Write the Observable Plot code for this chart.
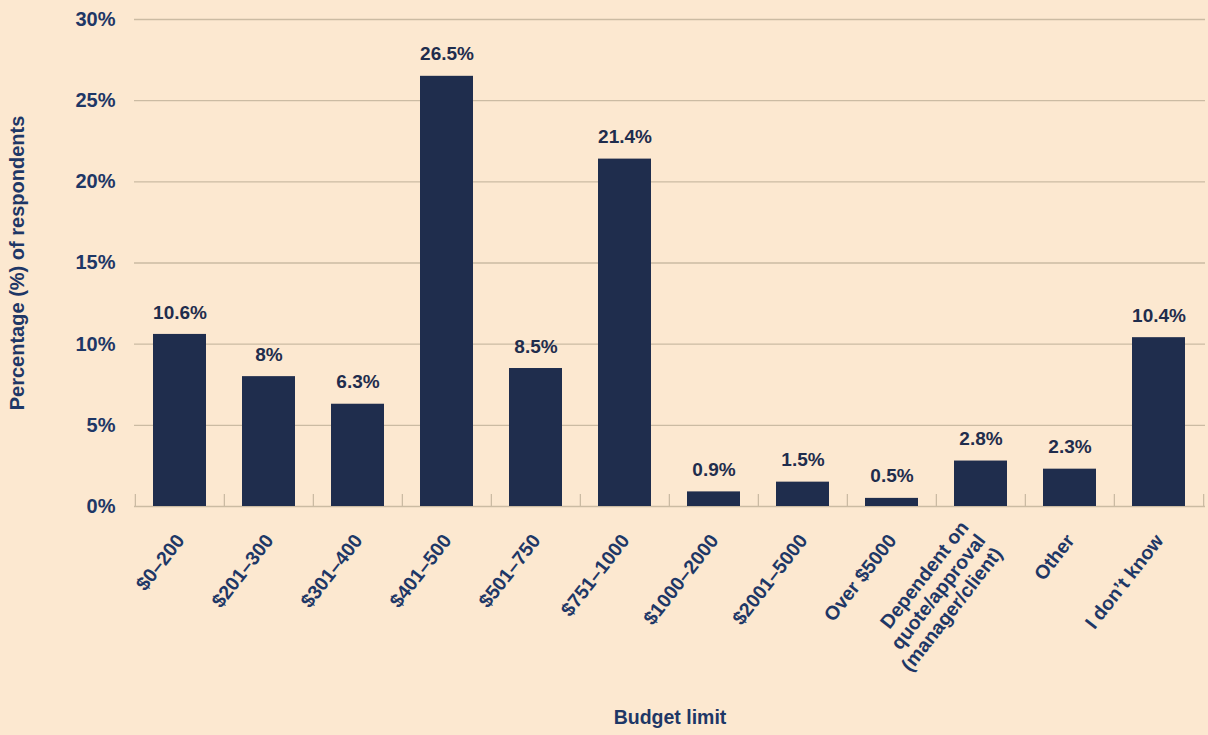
<!DOCTYPE html>
<html>
<head>
<meta charset="utf-8">
<script src="https://cdn.jsdelivr.net/npm/d3@7"></script>
<script src="https://cdn.jsdelivr.net/npm/@observablehq/plot@0.6"></script>
<style>
  html, body { margin: 0; padding: 0; background: #FCE8D0; }
  #chart { width: 1208px; height: 735px; }
</style>
</head>
<body>
<div id="chart"></div>
<script>
const categories = [
  "$0–200", "$201–300", "$301–400", "$401–500", "$501–750", "$751–1000",
  "$1000–2000", "$2001–5000", "Over $5000",
  "Dependent on\nquote/approval\n(manager/client)", "Other", "I don’t know"
];
const values = [10.6, 8, 6.3, 26.5, 8.5, 21.4, 0.9, 1.5, 0.5, 2.8, 2.3, 10.4];
const valueLabels = ["10.6%", "8%", "6.3%", "26.5%", "8.5%", "21.4%", "0.9%", "1.5%", "0.5%", "2.8%", "2.3%", "10.4%"];
const yTicks = [0, 5, 10, 15, 20, 25, 30];
const yTickLabels = ["0%", "5%", "10%", "15%", "20%", "25%", "30%"];

const data = categories.map((c, i) => ({cat: c, value: values[i], label: valueLabels[i]}));

const W = 1208, H = 735;
const mL = 134, mR = 3, mT = 19, mB = 229;
const step = (W - mL - mR) / categories.length;

const textColor = "#1E3766";
const barColor = "#1F2D4D";
const gridColor = "#CBBBA3";
const font = "'Liberation Sans', Arial, sans-serif";

const chart = Plot.plot({
  width: W,
  height: H,
  marginLeft: mL,
  marginRight: mR,
  marginTop: mT,
  marginBottom: mB,
  style: {
    background: "#FCE8D0",
    fontFamily: font,
    fontWeight: "bold",
    fontSize: "20px",
    color: textColor
  },
  x: {
    domain: categories,
    paddingInner: 0.4,
    paddingOuter: 0.2,
    label: null
  },
  y: {
    domain: [0, 30],
    label: null
  },
  marks: [
    Plot.ruleY(yTicks, {stroke: gridColor, strokeWidth: 1.3}),
    Plot.ruleX(categories, {x: d => d, dx: -step / 2, y1: 0, y2: 0.74, stroke: gridColor, strokeWidth: 1.3}),
    Plot.ruleX([categories[categories.length - 1]], {x: d => d, dx: step / 2, y1: 0, y2: 0.74, stroke: gridColor, strokeWidth: 1.3}),
    Plot.barY(data, {x: "cat", y: "value", fill: barColor}),
    Plot.text(data, {
      x: "cat", y: "value", text: "label", dy: -22,
      fill: barColor, fontSize: 19, fontWeight: "bold",
      fontFamily: "'Liberation Sans Narrow', 'Liberation Sans', Arial, sans-serif"
    }),
    Plot.axisY(yTicks, {
      tickSize: 0, tickPadding: 19, tickFormat: d => yTickLabels[yTicks.indexOf(d)],
      fontSize: 20, fontWeight: "bold",
      label: "Percentage (%) of respondents", labelAnchor: "center", labelOffset: 125,
      labelArrow: false, fill: textColor
    }),
    Plot.axisX({
      tickSize: 0, tickPadding: 30, tickRotate: -52, lineHeight: 1.1,
      fontSize: 19.5, fontWeight: "bold",
      label: "Budget limit", labelAnchor: "center", labelOffset: 217,
      labelArrow: false, fill: textColor
    })
  ]
});

document.getElementById("chart").appendChild(chart);
</script>
</body>
</html>
